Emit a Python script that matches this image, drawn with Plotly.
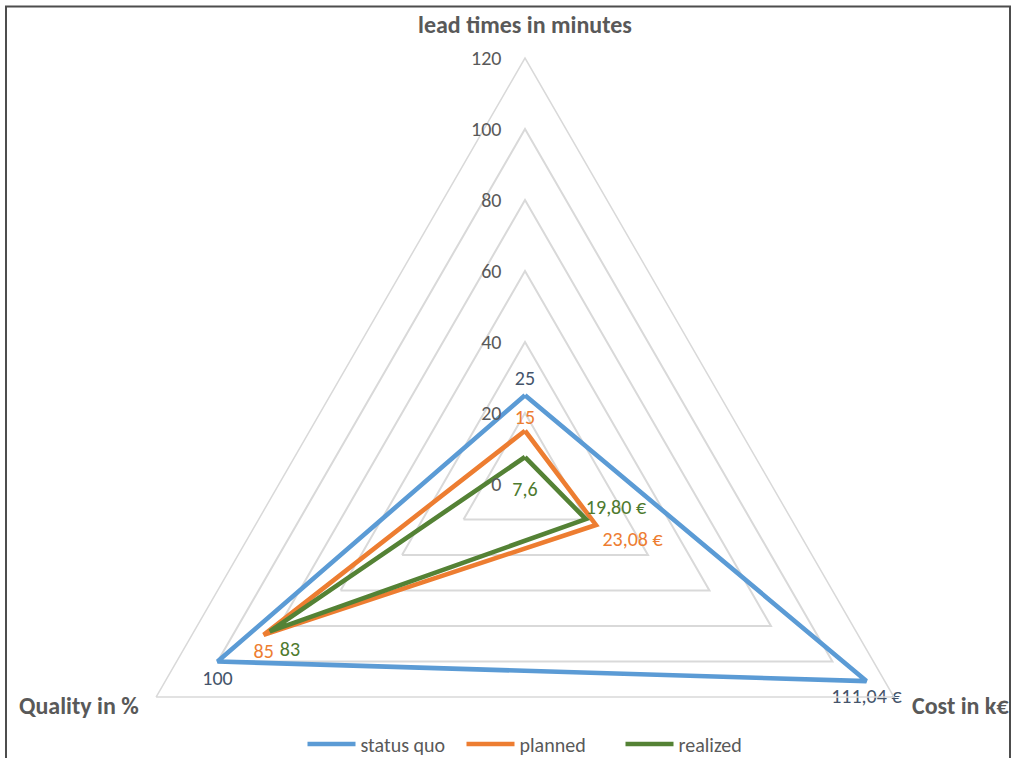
import math
import plotly.graph_objects as go

# Radar data: three criteria, three scenarios
categories = ["lead times in minutes", "Cost in k€", "Quality in %"]
status_quo = [25, 111.04, 100]
planned = [15, 23.08, 85]
realized = [7.6, 19.80, 83]

status_quo_labels = ["25", "111,04 €", "100"]
planned_labels = ["15", "23,08 €", "85"]
realized_labels = ["7,6", "19,80 €", "83"]

radial_ticks = [0, 20, 40, 60, 80, 100, 120]

FONT = "Calibri, Carlito, Lato, sans-serif"
GREY = "#595959"

W, H = 1011, 940
CX, CY, R = 525, 484, 426  # plot centre and outer radius in pixels

# name, values, labels, line colour, label colour, label positions, label offsets
series = [
    ("status quo", status_quo, status_quo_labels, "#5B9BD5", "#44546A",
     ["top center", "bottom center", "bottom center"], [6.4, 10.2, 11.2]),
    ("planned", planned, planned_labels, "#ED7D31", "#ED7D31",
     ["top center", "bottom right", "bottom center"], [1.6, 8.8, 11.2]),
    ("realized", realized, realized_labels, "#548235", "#4E7A2E",
     ["bottom center", "top right", "bottom right"], [36.8, 0, 14.4]),
]

fig = go.Figure()
for name, vals, labels, color, tcolor, tpos, offs in series:
    fig.add_trace(go.Scatterpolar(
        r=vals + vals[:1],
        theta=categories + categories[:1],
        mode="lines",
        name=name,
        line=dict(color=color, width=4.6),
        hoverinfo="skip",
    ))
for name, vals, labels, color, tcolor, tpos, offs in series:
    # value labels; the transparent marker size sets the label standoff
    fig.add_trace(go.Scatterpolar(
        r=vals,
        theta=categories,
        mode="markers+text",
        showlegend=False,
        marker=dict(size=offs, opacity=0, color=color),
        text=labels,
        textposition=tpos,
        textfont=dict(family=FONT, size=20, color=tcolor),
        cliponaxis=False,
        hoverinfo="skip",
    ))

# category names placed just outside the outer triangle's corners
half_side = R * math.cos(math.radians(30))
cat_pos = [
    dict(x=CX, y=CY - R - 34, xanchor="center"),
    dict(x=CX + half_side + 16, y=CY + R / 2 + 8, xanchor="left"),
    dict(x=CX - half_side - 15, y=CY + R / 2 + 8, xanchor="right"),
]
annotations = [
    dict(text=f"<b>{name}</b>", xref="paper", yref="paper",
         x=p["x"] / W, y=1 - p["y"] / H, xanchor=p["xanchor"], yanchor="middle",
         showarrow=False, font=dict(family=FONT, size=24, color=GREY))
    for name, p in zip(categories, cat_pos)
]

fig.update_layout(
    width=W, height=H,
    margin=dict(l=0, r=0, t=0, b=0),
    paper_bgcolor="white",
    font=dict(family=FONT, color=GREY),
    polar=dict(
        domain=dict(x=[(CX - R) / W, (CX + R) / W],
                    y=[1 - (CY + R) / H, 1 - (CY - R) / H]),
        gridshape="linear",
        bgcolor="white",
        radialaxis=dict(
            range=[0, 120], tickvals=radial_ticks, angle=90,
            side="counterclockwise", tickangle=90,
            showline=False, gridcolor="#d9d9d9", gridwidth=1.5,
            ticks="outside", ticklen=16, tickcolor="rgba(0,0,0,0)",
            tickfont=dict(family=FONT, size=20, color=GREY),
        ),
        angularaxis=dict(
            direction="clockwise", rotation=90,
            showgrid=False, showline=True, linecolor="#d9d9d9", linewidth=1.5,
            ticks="", showticklabels=False,
        ),
    ),
    annotations=annotations,
    showlegend=True,
    legend=dict(
        orientation="h", x=541 / W, xanchor="center",
        y=1 - 744 / H, yanchor="middle",
        itemwidth=48, entrywidth=96,
        font=dict(family=FONT, size=20, color=GREY),
        bgcolor="rgba(0,0,0,0)",
    ),
    shapes=[dict(
        type="rect", xref="paper", yref="paper",
        x0=6 / W, x1=1010 / W, y0=0.0, y1=1 - 6.5 / H,
        line=dict(color="#4d4d4d", width=2),
    )],
)

fig.write_html(
    "out.html",
    post_script="document.documentElement.style.overflow='hidden';"
                "document.body.style.overflow='hidden';"
                "document.body.style.margin='0';",
)
